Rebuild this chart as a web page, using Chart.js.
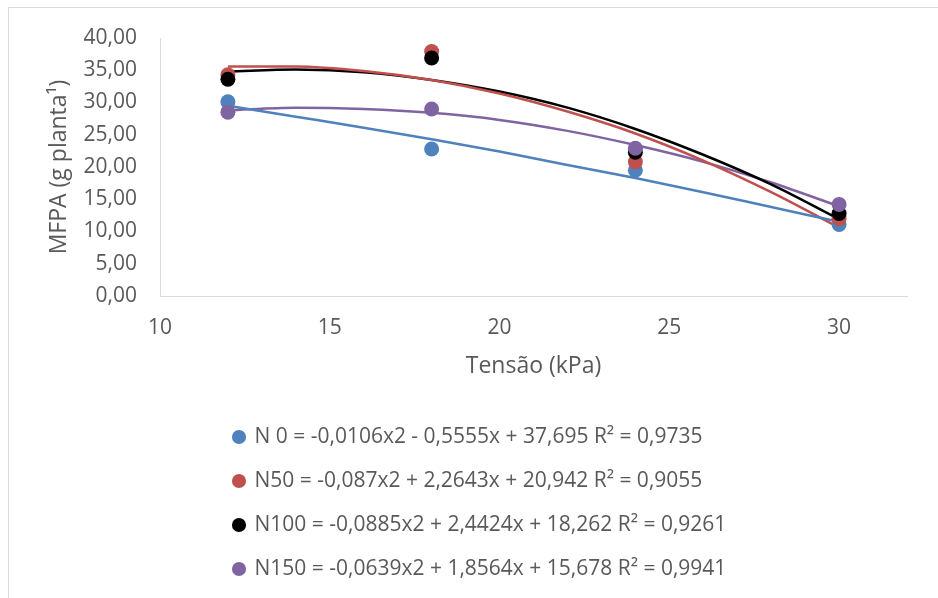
<!DOCTYPE html>
<html>
<head>
<meta charset="utf-8">
<script src="https://cdn.jsdelivr.net/npm/chart.js@4/dist/chart.umd.min.js"></script>
<style>
  body { margin: 0; background: #fff; overflow: hidden; }
  #frame { position: absolute; left: 8px; top: 7px; width: 960px; height: 620px; border: 1px solid #d9d9d9; }
  #chart { position: absolute; left: 0; top: 0; }
</style>
</head>
<body>
<div id="frame"></div>
<canvas id="chart" width="938" height="598"></canvas>
<script>
// measured points
var tensao = [12, 18, 24, 30];
var n0 = [30.1, 22.8, 19.5, 11.1];
var n50 = [34.3, 37.9, 20.8, 12.0];
var n100 = [33.6, 36.9, 22.3, 12.8];
var n150 = [28.5, 29.0, 22.9, 14.2];

// trend lines
var trendX = [12, 14, 16, 18, 20, 22, 24, 26, 28, 30];
var trendN0 = [29.5, 27.8, 26.1, 24.3, 22.4, 20.3, 18.3, 16.1, 13.8, 11.5];
var trendN50 = [35.6, 35.6, 34.9, 33.5, 31.4, 28.6, 25.2, 21.0, 16.1, 10.6];
var trendN100 = [34.8, 35.1, 34.7, 33.5, 31.7, 29.2, 25.9, 21.9, 17.3, 11.9];
var trendN150 = [28.8, 29.2, 29.0, 28.4, 27.3, 25.6, 23.4, 20.8, 17.6, 13.9];

var labels = [
  'N 0 = -0,0106x2 - 0,5555x + 37,695 R² = 0,9735',
  'N50 = -0,087x2 + 2,2643x + 20,942 R² = 0,9055',
  'N100 = -0,0885x2 + 2,4424x + 18,262 R² = 0,9261',
  'N150 = -0,0639x2 + 1,8564x + 15,678 R² = 0,9941'
];
var colors = ['#4f81bd', '#c0504d', '#000000', '#8064a2'];

var xTicks = [10, 15, 20, 25, 30];
var yTicks = [0, 5, 10, 15, 20, 25, 30, 35, 40];

var FONT = 'Open Sans';
var GREY = '#595959';

function pts(xs, ys) {
  return xs.map(function (x, i) { return { x: x, y: ys[i] }; });
}

var pointSets = [n0, n50, n100, n150];
var trendSets = [trendN0, trendN50, trendN100, trendN150];

var datasets = [];
pointSets.forEach(function (ys, i) {
  datasets.push({
    label: labels[i],
    data: pts(tensao, ys),
    showLine: false,
    pointStyle: 'circle',
    pointRadius: 7.5,
    pointHoverRadius: 7.5,
    pointBorderWidth: 0,
    backgroundColor: colors[i],
    borderColor: colors[i],
    order: 4 - i
  });
});
trendSets.forEach(function (ys, i) {
  datasets.push({
    label: 'trend' + i,
    data: pts(trendX, ys),
    showLine: true,
    pointRadius: 0,
    borderWidth: 2.5,
    borderColor: colors[i],
    backgroundColor: colors[i],
    cubicInterpolationMode: 'monotone',
    fill: false,
    order: 10 + i
  });
});

// line the legend rows up on the left like the original
var legendLeft = {
  id: 'legendLeft',
  afterLayout: function (chart) {
    chart.legend.left = 211;
  }
};

new Chart(document.getElementById('chart'), {
  type: 'line',
  data: { datasets: datasets },
  plugins: [legendLeft],
  options: {
    responsive: false,
    animation: false,
    layout: { padding: { top: 38, right: 31, bottom: 8.5, left: 0 } },
    plugins: {
      tooltip: { enabled: false },
      legend: {
        position: 'bottom',
        align: 'start',
        labels: {
          usePointStyle: true,
          boxWidth: 10,
          boxHeight: 10,
          padding: 23,
          color: GREY,
          font: { family: FONT, size: 21 },
          filter: function (item) { return item.datasetIndex < 4; },
          sort: function (a, b) { return a.datasetIndex - b.datasetIndex; }
        }
      }
    },
    scales: {
      x: {
        type: 'linear',
        min: 10,
        max: 32,
        afterFit: function (s) { s.height = 107.5; },
        afterBuildTicks: function (s) {
          s.ticks = xTicks.map(function (v) { return { value: v }; });
        },
        grid: { display: false, drawTicks: false },
        border: { display: true, color: '#d9d9d9', width: 1 },
        ticks: {
          padding: 19,
          color: GREY,
          font: { family: FONT, size: 21 },
          maxRotation: 0
        },
        title: {
          display: true,
          text: 'Tensão (kPa)',
          color: GREY,
          font: { family: FONT, size: 23 },
          padding: { top: 0, bottom: 23.7 }
        }
      },
      y: {
        min: 0,
        max: 40,
        afterFit: function (s) { s.width = 160; },
        afterBuildTicks: function (s) {
          s.ticks = yTicks.map(function (v) { return { value: v }; });
        },
        grid: { display: false, drawTicks: false },
        border: { display: true, color: '#d9d9d9', width: 1 },
        ticks: {
          padding: 23,
          color: GREY,
          font: { family: FONT, size: 21 },
          callback: function (v) { return v.toFixed(2).replace('.', ','); }
        },
        title: {
          display: true,
          text: 'MFPA (g planta¹)',
          color: GREY,
          font: { family: FONT, size: 23 },
          padding: { top: 46, bottom: 0 }
        }
      }
    }
  }
});
</script>
</body>
</html>
